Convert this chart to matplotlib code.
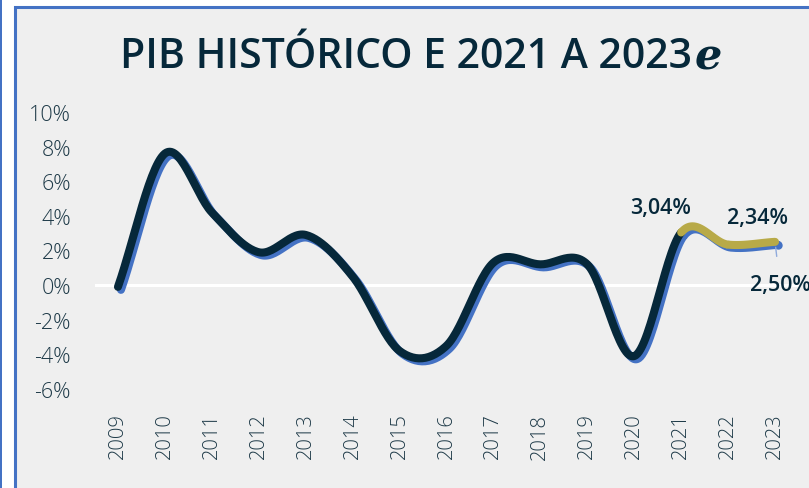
import matplotlib
matplotlib.use("Agg")
import matplotlib.pyplot as plt
import matplotlib.transforms as mtransforms
from matplotlib.patches import Rectangle
import numpy as np

years = ["2009", "2010", "2011", "2012", "2013", "2014", "2015", "2016",
         "2017", "2018", "2019", "2020", "2021", "2022", "2023"]
historico = [-0.1, 7.6, 4.2, 1.9, 2.9, 0.5, -3.8, -3.5, 1.3, 1.2, 1.2, -4.1, 3.04]
projecao = [3.04, 2.34, 2.50]
labels_proj = ["3,04%", "2,34%", "2,50%"]
yticks = [-6, -4, -2, 0, 2, 4, 6, 8, 10]

DARK = "#06283A"
BLUE = "#4472C4"
GOLD = "#B8AA48"
TEXT = "#1E3A48"


def smooth(x, y, n=30):
    # catmull-rom, close to the excel "smoothed line"
    x = np.asarray(x, float)
    y = np.asarray(y, float)
    px = np.concatenate([[2 * x[0] - x[1]], x, [2 * x[-1] - x[-2]]])
    py = np.concatenate([[2 * y[0] - y[1]], y, [2 * y[-1] - y[-2]]])
    xs, ys = [], []
    for i in range(1, len(px) - 2):
        t = np.linspace(0, 1, n)
        for p, out in ((px, xs), (py, ys)):
            p0, p1, p2, p3 = p[i - 1], p[i], p[i + 1], p[i + 2]
            out.extend(0.5 * (2 * p1 + (-p0 + p2) * t
                              + (2 * p0 - 5 * p1 + 4 * p2 - p3) * t ** 2
                              + (-p0 + 3 * p1 - 3 * p2 + p3) * t ** 3))
    return np.array(xs), np.array(ys)


fig = plt.figure(figsize=(8.09, 4.89), dpi=100)
fig.patch.set_facecolor("white")
fig.patches.append(Rectangle((15 / 809, -0.05), 1, 1.05 - 8 / 489, transform=fig.transFigure,
                             facecolor="#EFEFEF", edgecolor=BLUE, lw=2.2, zorder=-2))
fig.patches.append(Rectangle((0, 0), 1.5 / 809, 1, transform=fig.transFigure,
                             facecolor=BLUE, edgecolor="none", zorder=-2))

ax = fig.add_axes([94.5 / 809, 1 - 390 / 489, 704 / 809, 277 / 489])
ax.set_facecolor("none")
for s in ax.spines.values():
    s.set_visible(False)

x_all = np.arange(len(years))
full = historico + projecao[1:]

ax.axhline(0, color="white", lw=2.2, zorder=1)

shadow = ax.transData + mtransforms.ScaledTranslation(3 / 100, -3 / 100, fig.dpi_scale_trans)
sx, sy = smooth(x_all, full)
ax.plot(sx, sy, color=BLUE, lw=5.8, solid_capstyle="round", transform=shadow, zorder=2)
ax.plot(x_all[-1], full[-1], "o", color=BLUE, ms=5, transform=shadow, zorder=2)

# dark historical part and gold projection on the same smoothed curve
hx, hy = smooth(x_all, full)
ax.plot(hx[hx <= 12], hy[hx <= 12], color=DARK, lw=5.8, solid_capstyle="round", zorder=3)
ax.plot(hx[hx >= 12], hy[hx >= 12], color=GOLD, lw=5.8, solid_capstyle="round", zorder=3)

ax.set_xlim(-0.5, len(years) - 0.5)
ax.set_ylim(-6, 10)
ax.set_xticks(x_all)
ax.set_xticklabels(years, rotation=90, fontsize=14.5, color=TEXT, family="Open Sans",
                   fontweight="light")
ax.set_yticks(yticks)
ax.set_yticklabels([f"{v}%" for v in yticks], fontsize=15.5, color=TEXT, family="Open Sans",
                   fontweight="light")
ax.tick_params(length=0)
ax.tick_params(axis="x", pad=17)
ax.tick_params(axis="y", pad=17)

lbl = dict(ha="center", va="center", fontsize=15.5, fontweight="semibold", color=DARK,
           family="Open Sans", textcoords="offset pixels")
ax.annotate(labels_proj[0], (12, projecao[0]), xytext=(-21, 25), **lbl)
ax.annotate(labels_proj[1], (13, projecao[1]), xytext=(29, 27), **lbl)
ax.annotate(labels_proj[2], (14, projecao[2]), xytext=(5, -43), **lbl,
            arrowprops=dict(arrowstyle="-", color="#8FAADC", lw=1, shrinkA=11, shrinkB=4))

# title: main part + italic "e"
ty = 1 - 57 / 489
t1 = fig.text(0, ty, "PIB HISTÓRICO E 2021 A 2023", ha="left", va="center",
              fontsize=29.5, fontweight="semibold", color=DARK, family="Open Sans")
t2 = fig.text(0, ty, "e", ha="left", va="center", fontsize=31, fontweight="bold",
              style="italic", color=DARK, family="DejaVu Serif")
fig.canvas.draw()
w1 = t1.get_window_extent().width
w2 = t2.get_window_extent().width
x0 = 421 - (w1 + w2 + 3) / 2
t1.set_x(x0 / 809)
t2.set_x((x0 + w1 + 3) / 809)

fig.savefig("out.png", dpi=100)
